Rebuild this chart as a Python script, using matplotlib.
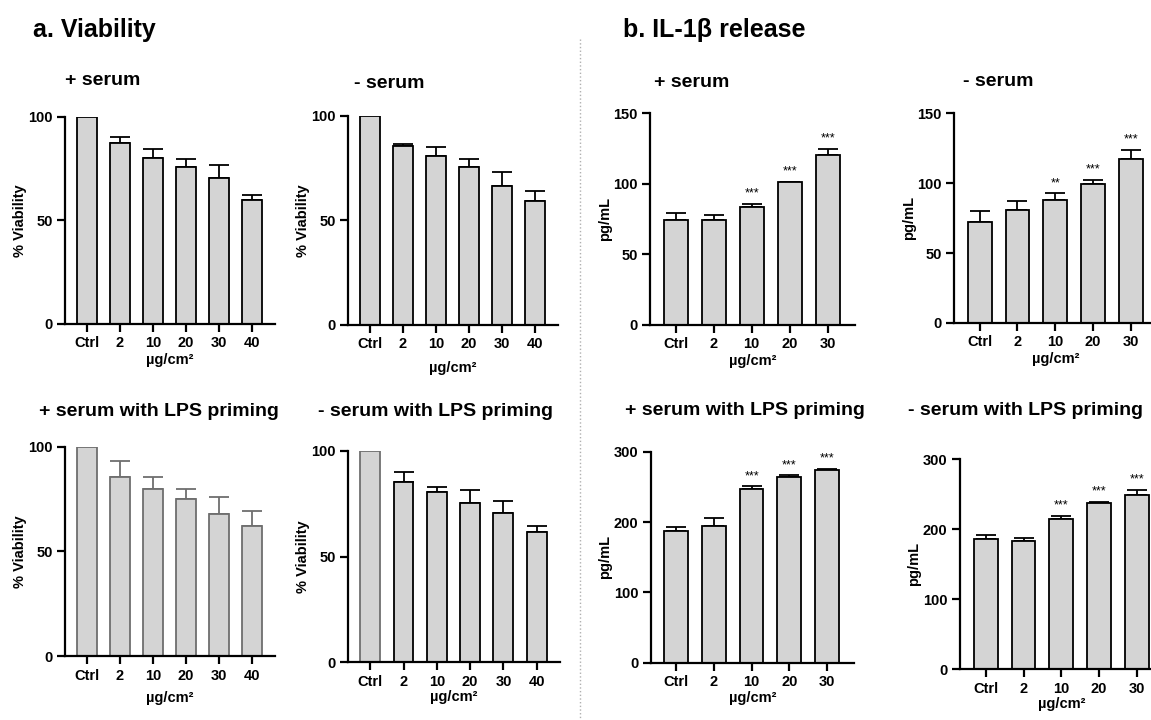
import matplotlib
matplotlib.use("Agg")
import matplotlib.pyplot as plt
from matplotlib.lines import Line2D

plt.rcParams['font.family'] = ['Liberation Sans', 'DejaVu Sans']
plt.rcParams['font.weight'] = 'bold'
plt.rcParams['axes.labelweight'] = 'bold'

# x categories
doses_viab = ['Ctrl', '2', '10', '20', '30', '40']
doses_il = ['Ctrl', '2', '10', '20', '30']

# a. viability (% of control), mean and upper SD
viab_serum = [100, 87.5, 80.0, 75.9, 70.6, 59.9]
viab_serum_err = [0, 2.9, 4.6, 3.6, 6.0, 2.2]
viab_noserum = [100, 85.6, 80.9, 75.4, 66.5, 59.2]
viab_noserum_err = [0, 1.2, 4.4, 4.0, 6.7, 4.9]
viab_serum_lps = [100, 85.7, 79.9, 75.2, 67.8, 62.1]
viab_serum_lps_err = [0, 7.3, 5.8, 4.4, 8.3, 7.2]
viab_noserum_lps = [100, 85.4, 80.5, 75.1, 70.7, 61.4]
viab_noserum_lps_err = [0, 4.5, 2.2, 6.2, 5.7, 3.0]

# b. IL-1beta release (pg/mL)
il_serum = [74.2, 74.4, 83.4, 101.1, 120.5]
il_serum_err = [5.4, 3.3, 2.3, 0.5, 4.5]
il_noserum = [72.6, 80.7, 88.1, 99.3, 117.4]
il_noserum_err = [7.2, 6.7, 4.8, 3.1, 6.4]
il_serum_lps = [186.7, 194.3, 246.9, 264.0, 274.0]
il_serum_lps_err = [6.7, 10.9, 3.8, 2.4, 1.4]
il_noserum_lps = [185.7, 183.8, 214.8, 237.6, 249.0]
il_noserum_lps_err = [6.2, 3.8, 4.2, 1.4, 7.2]

# significance marks
il_serum_stars = ['', '', '***', '***', '***']
il_noserum_stars = ['', '', '**', '***', '***']
il_serum_lps_stars = ['', '', '***', '***', '***']
il_noserum_lps_stars = ['', '', '***', '***', '***']

W, H = 1151, 720
fig = plt.figure(figsize=(W / 100, H / 100), dpi=100)

FACE = '#d4d4d4'


def rect(left, right, top, bottom):
    return [left / W, 1 - bottom / H, (right - left) / W, (bottom - top) / H]


def draw_panel(box, labels, vals, errs, ymax, yticks, ylabel, width, xlim,
               stars=None, edges='black', errcolor='black', labelpad=2):
    ax = fig.add_axes(box)
    x = list(range(len(labels)))
    ax.bar(x, vals, width=width, color=FACE, edgecolor=edges, linewidth=1.3,
           zorder=2)
    ax.errorbar(x, vals, yerr=[[0] * len(errs), errs], fmt='none',
                ecolor=errcolor, elinewidth=1.3, capsize=7, capthick=1.3,
                zorder=1)
    if stars:
        for xi, v, e, s in zip(x, vals, errs, stars):
            if s:
                ax.annotate(s, (xi, v + e), xytext=(0, 3),
                            textcoords='offset points', ha='center',
                            va='bottom', fontsize=9, fontweight='normal')
    ax.set_xlim(*xlim)
    ax.set_ylim(0, ymax)
    ax.set_yticks(yticks)
    ax.set_xticks(x)
    ax.set_xticklabels(labels)
    ax.set_ylabel(ylabel, fontsize=10.5, labelpad=1)
    ax.set_xlabel('µg/cm²', fontsize=10.5, labelpad=labelpad)
    for side in ['top', 'right']:
        ax.spines[side].set_visible(False)
    for side in ['left', 'bottom']:
        ax.spines[side].set_linewidth(1.6)
    ax.tick_params(width=1.6, length=6, labelsize=10.5, pad=3)
    return ax


xl_v = (-0.667, 5.7)
xl_i = (-0.68, 4.72)

draw_panel(rect(65, 275, 116.7, 324), doses_viab, viab_serum, viab_serum_err,
           100, [0, 50, 100], '% Viability', 0.6, xl_v, labelpad=2)
draw_panel(rect(348, 558, 116, 325), doses_viab, viab_noserum,
           viab_noserum_err, 100, [0, 50, 100], '% Viability', 0.6, xl_v,
           labelpad=7)
draw_panel(rect(650, 855, 113.3, 325), doses_il, il_serum, il_serum_err,
           150, [0, 50, 100, 150], 'pg/mL', 0.63, xl_i, stars=il_serum_stars)
draw_panel(rect(954, 954 + 5.4 * 37.75, 113.3, 323), doses_il, il_noserum,
           il_noserum_err, 150, [0, 50, 100, 150], 'pg/mL', 0.63, xl_i,
           stars=il_noserum_stars)

draw_panel(rect(65, 275, 446.7, 656), doses_viab, viab_serum_lps,
           viab_serum_lps_err, 100, [0, 50, 100], '% Viability', 0.6, xl_v,
           edges='#6e6e6e', errcolor='#6e6e6e', labelpad=6)
draw_panel(rect(348, 560, 450.7, 662.3), doses_viab, viab_noserum_lps,
           viab_noserum_lps_err, 100, [0, 50, 100], '% Viability', 0.6, xl_v,
           edges=['#707070'] + ['black'] * 5, labelpad=1)
draw_panel(rect(650.7, 854, 451.7, 662.7), doses_il, il_serum_lps,
           il_serum_lps_err, 300, [0, 100, 200, 300], 'pg/mL', 0.63, xl_i,
           stars=il_serum_lps_stars, labelpad=1)
draw_panel(rect(960, 960 + 5.4 * 37.8, 459.3, 669.3), doses_il,
           il_noserum_lps, il_noserum_lps_err, 300, [0, 100, 200, 300],
           'pg/mL', 0.63, xl_i, stars=il_noserum_lps_stars, labelpad=1)


def ftext(x, y, s, size):
    fig.text(x / W, 1 - y / H, s, fontsize=size, fontweight='bold',
             ha='left', va='baseline')


ftext(33, 37, 'a. Viability', 18)
ftext(623, 37, 'b. IL-1β release', 18)

ftext(65, 85, '+ serum', 14)
ftext(354, 88, '- serum', 14)
ftext(654, 87, '+ serum', 14)
ftext(963, 86, '- serum', 14)
ftext(39, 416, '+ serum with LPS priming', 14)
ftext(318, 416, '- serum with LPS priming', 14)
ftext(625, 415, '+ serum with LPS priming', 14)
ftext(908, 415, '- serum with LPS priming', 14)

# dotted divider between the two sections
fig.add_artist(Line2D([580 / W, 580 / W], [1 - 39 / H, 0], linestyle=':',
                      color='#b0b0b0', linewidth=1))

fig.savefig('out.png', dpi=100)
